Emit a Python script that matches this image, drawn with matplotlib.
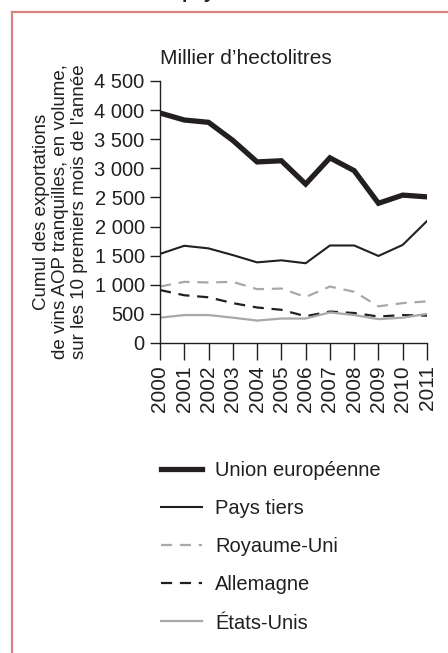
import matplotlib
matplotlib.use("Agg")
import matplotlib.pyplot as plt
from matplotlib.lines import Line2D
from matplotlib.ticker import FuncFormatter

plt.rcParams["font.family"] = ["Liberation Sans", "DejaVu Sans"]

# Data (milliers d'hectolitres)
years = [2000, 2001, 2002, 2003, 2004, 2005, 2006, 2007, 2008, 2009, 2010, 2011]
union_europeenne = [3950, 3830, 3790, 3480, 3110, 3130, 2730, 3180, 2960, 2400, 2540, 2510]
pays_tiers = [1530, 1670, 1625, 1510, 1385, 1420, 1370, 1675, 1675, 1495, 1685, 2095]
royaume_uni = [970, 1050, 1040, 1050, 925, 935, 790, 970, 880, 630, 685, 715]
allemagne = [910, 820, 785, 685, 610, 570, 460, 540, 515, 455, 480, 470]
etats_unis = [435, 480, 480, 435, 385, 420, 420, 525, 480, 410, 435, 500]

yticks = [0, 500, 1000, 1500, 2000, 2500, 3000, 3500, 4000, 4500]

W, H = 448, 653
ink = "#231f20"
grey = "#a8a8a8"

fig = plt.figure(figsize=(W / 100, H / 100), dpi=100)
ax = fig.add_axes([160 / W, 1 - 343 / H, (427 - 160) / W, (343 - 81) / H])

ax.plot(years, union_europeenne, color=ink, lw=3.8, solid_joinstyle="miter",
        label="Union européenne")
ax.plot(years, pays_tiers, color=ink, lw=1.5, label="Pays tiers")
ax.plot(years, royaume_uni, color=grey, lw=1.6, dashes=(5, 3.5), label="Royaume-Uni")
ax.plot(years, allemagne, color=ink, lw=1.6, dashes=(5, 3.5), label="Allemagne")
ax.plot(years, etats_unis, color=grey, lw=1.6, label="États-Unis")

ax.set_xlim(years[0], years[-1])
ax.set_ylim(0, 4500)
ax.set_yticks(yticks)
ax.yaxis.set_major_formatter(FuncFormatter(lambda v, p: f"{int(v):,}".replace(",", " ")))
ax.set_xticks(years)
ax.set_xticklabels([str(y) for y in years], rotation=90)

for s in ["top", "right"]:
    ax.spines[s].set_visible(False)
for s in ["left", "bottom"]:
    ax.spines[s].set_color(ink)
    ax.spines[s].set_linewidth(1.0)
ax.tick_params(axis="y", length=7, width=1, color=ink, labelsize=14.5, labelcolor=ink, pad=4)
ax.tick_params(axis="x", length=12, width=1, color=ink, labelsize=15, labelcolor=ink, pad=4)

ax.set_ylabel("Cumul des exportations\nde vins AOP tranquilles, en volume,\nsur les 10 premiers mois de l'année",
              fontsize=13.5, color=ink, linespacing=1.12, labelpad=5)

fig.text(160 / W, 1 - 64 / H, "Millier d’hectolitres", fontsize=15, color=ink,
         ha="left", va="baseline")

# partially cropped title at top
fig.text(182 / W, 1 + 2 / H, "pays", fontsize=14, fontweight="bold", color=ink,
         ha="left", va="baseline")

# pink frame
frame = "#d8857f"
fig.add_artist(Line2D([12 / W, 1.0], [1 - 12 / H, 1 - 12 / H], color=frame, lw=1.6,
                      transform=fig.transFigure))
fig.add_artist(Line2D([12 / W, 12 / W], [1 - 12 / H, 0.0], color=frame, lw=1.6,
                      transform=fig.transFigure))

leg = fig.legend(loc="upper left", bbox_to_anchor=(161 / W, 1 - 461 / H),
                 frameon=False, fontsize=14.5, handlelength=2.05, handletextpad=0.65,
                 labelspacing=0.95, borderpad=0, borderaxespad=0)
for t in leg.get_texts():
    t.set_color(ink)

fig.savefig("out.png", dpi=100)
